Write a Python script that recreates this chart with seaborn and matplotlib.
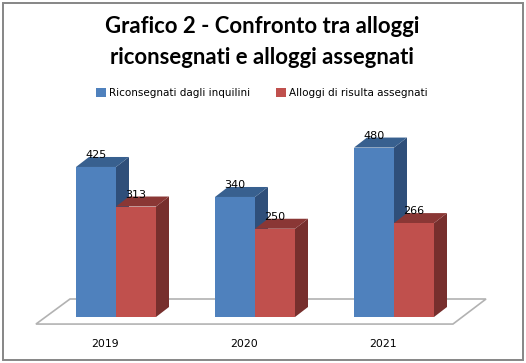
import pandas as pd
import seaborn as sns
import matplotlib.pyplot as plt
from matplotlib.patches import Polygon, Rectangle
from matplotlib.transforms import ScaledTranslation

anni = ["2019", "2020", "2021"]
riconsegnati = [425, 340, 480]
assegnati = [313, 250, 266]
serie = ["Riconsegnati dagli inquilini", "Alloggi di risulta assegnati"]
titolo = "Grafico 2 - Confronto tra alloggi\nriconsegnati e alloggi assegnati"

W, H = 526, 363
colori = ["#4F81BD", "#C0504D"]
lati = ["#2F4F7A", "#772F2D"]
tetti = ["#38608F", "#8A3735"]

df = pd.DataFrame({
    "anno": anni * 2,
    "valore": riconsegnati + assegnati,
    "serie": [serie[0]] * 3 + [serie[1]] * 3,
})

sns.set_style("white")
plt.rcParams["font.family"] = ["DejaVu Sans"]

fig = plt.figure(figsize=(W / 100, H / 100), dpi=100)
# axes placed so that one category is 139 px and 600 units are 212 px
ax = fig.add_axes([46.5 / W, (H - 317) / H, 417 / W, 211.8 / H])
sns.barplot(data=df, x="anno", y="valore", hue="serie", hue_order=serie,
            palette=colori, saturation=1, width=0.5755, gap=0, linewidth=0,
            edgecolor="none", ax=ax)
ax.set_xlim(-0.5, 2.5)
ax.set_ylim(0, 600)
ax.set_xlabel("")
ax.set_ylabel("")
ax.set_yticks([])
sns.despine(ax=ax, left=True, bottom=True)
ax.patch.set_alpha(0)

# fake 3d depth, taken from each bar
dx = 13 / 139
dy = 10 / 0.353
for i, cont in enumerate(ax.containers):
    for bar in cont:
        x0, w, h = bar.get_x(), bar.get_width(), bar.get_height()
        x1 = x0 + w
        bar.set_zorder(3)
        ax.add_patch(Polygon([(x1, 0), (x1 + dx, dy), (x1 + dx, h + dy), (x1, h)],
                             fc=lati[i], ec="none", zorder=2 + i * 0.5, clip_on=False))
        ax.add_patch(Polygon([(x0, h), (x0 + dx, h + dy), (x1 + dx, h + dy), (x1, h)],
                             fc=tetti[i], ec="none", zorder=2 + i * 0.5, clip_on=False))
    ax.bar_label(cont, padding=5, fontsize=8, color="black", zorder=5)
    for t in ax.texts:
        t.set_zorder(6)

# floor of the chart
ax.add_patch(Polygon([(-0.576, -20), (-0.331, 51), (2.662, 51), (2.424, -20)],
                     fc="white", ec="#B2B2B2", lw=1.2, zorder=1, clip_on=False))

ax.tick_params(axis="x", length=0, pad=16, labelsize=7.8, labelcolor="black")
sposta = ScaledTranslation(-11 / 100, 0, fig.dpi_scale_trans)
for lab in ax.get_xticklabels():
    lab.set_transform(lab.get_transform() + sposta)

leg = ax.legend(ncol=2, loc="center", bbox_to_anchor=(262 / W, 1 - 93 / H),
                bbox_transform=fig.transFigure, frameon=False, fontsize=7.5,
                handlelength=0.95, handleheight=1.0, handletextpad=0.3, columnspacing=2.5,
                labelcolor="black")

fig.text(262 / W, 1 - 42 / H, titolo, ha="center", va="center", fontsize=15.9,
         fontweight="bold", family="Lato", linespacing=1.55, color="black")

# outer frame
fig.add_artist(Rectangle((2.5 / W, 1 - 360 / H), 520.5 / W, 357.5 / H, transform=fig.transFigure,
                         fc="none", ec="#868686", lw=1.4))

fig.savefig("out.png", dpi=100)
